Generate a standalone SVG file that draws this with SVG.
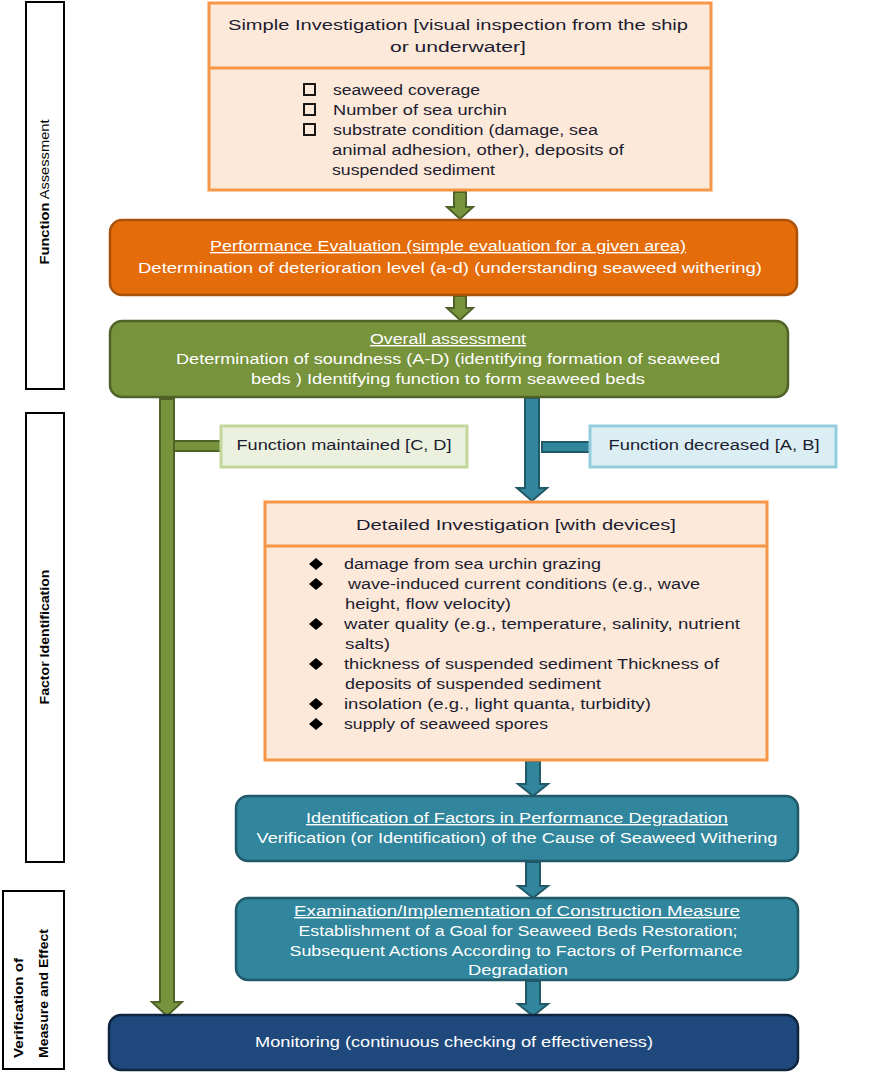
<svg xmlns="http://www.w3.org/2000/svg" width="891" height="1080" viewBox="0 0 891 1080">
<style>
text{font-family:"Liberation Sans",Arial,sans-serif;font-size:14px}
.dk{fill:#1c1c30}
.wt{fill:#ffffff}
.peach{fill:#fde9d9;stroke:#f79646;stroke-width:3}
.side{fill:#ffffff;stroke:#000000;stroke-width:2}
.vt{font-size:13px;fill:#000}
.ga{fill:#77933c;stroke:#4f6228;stroke-width:2}
.ba{fill:#31859c;stroke:#215968;stroke-width:2}
.u{text-decoration:underline}
</style>

<g id="label-function-assessment">
<rect class="side" x="26" y="2" width="38" height="387"/>
<text class="vt" transform="translate(49,192) rotate(-90)" text-anchor="middle" textLength="145" lengthAdjust="spacingAndGlyphs"><tspan font-weight="bold">Function</tspan> Assessment</text>
</g>
<g id="label-factor-identification">
<rect class="side" x="26" y="413" width="38" height="449"/>
<text class="vt" transform="translate(49,637) rotate(-90)" text-anchor="middle" font-weight="bold" textLength="135" lengthAdjust="spacingAndGlyphs">Factor Identification</text>
</g>
<g id="label-verification">
<rect class="side" x="3" y="891" width="61" height="178"/>
<text class="vt" transform="translate(23,1058) rotate(-90)" font-weight="bold" textLength="100" lengthAdjust="spacingAndGlyphs">Verification of</text>
<text class="vt" transform="translate(48,1058) rotate(-90)" font-weight="bold" textLength="129" lengthAdjust="spacingAndGlyphs">Measure and Effect</text>
</g>

<g id="connectors">
<polygon class="ga" points="454,192 466,192 466,207 473,207 460,219 447,207 454,207"/>
<polygon class="ga" points="454,296 466,296 466,308 473,308 460,320 447,308 454,308"/>
<rect class="ga" x="174" y="441" width="48" height="10"/>
<polygon class="ga" points="160,399 174,399 174,1002 182,1002 167,1016 152,1002 160,1002"/>
<rect class="ba" x="542" y="442" width="48" height="10"/>
<polygon class="ba" points="525,398 539,398 539,488 547,488 532,501 517,488 525,488"/>
<polygon class="ba" points="526,761 540,761 540,784 548,784 533,796 518,784 526,784"/>
<polygon class="ba" points="526,862 540,862 540,886 548,886 533,898 518,886 526,886"/>
<polygon class="ba" points="526,981 540,981 540,1004 548,1004 533,1016 518,1004 526,1004"/>
</g>

<g id="simple-investigation">
<rect class="peach" x="209" y="3" width="502" height="187"/>
<line x1="209" y1="68" x2="711" y2="68" stroke="#f79646" stroke-width="3"/>
<text class="dk" x="458" y="30" text-anchor="middle" font-size="15" textLength="460" lengthAdjust="spacingAndGlyphs">Simple Investigation [visual inspection from the ship</text>
<text class="dk" x="458" y="52" text-anchor="middle" font-size="15" textLength="136" lengthAdjust="spacingAndGlyphs">or underwater]</text>
<rect x="304" y="84" width="11" height="11" fill="none" stroke="#000" stroke-width="1.8"/>
<rect x="304" y="104" width="11" height="11" fill="none" stroke="#000" stroke-width="1.8"/>
<rect x="304" y="124" width="11" height="11" fill="none" stroke="#000" stroke-width="1.8"/>
<text class="dk" x="333" y="95" textLength="147" lengthAdjust="spacingAndGlyphs">seaweed  coverage</text>
<text class="dk" x="333" y="115" textLength="174" lengthAdjust="spacingAndGlyphs">Number  of sea urchin</text>
<text class="dk" x="333" y="135" textLength="265" lengthAdjust="spacingAndGlyphs">substrate condition (damage, sea</text>
<text class="dk" x="332" y="155" textLength="292" lengthAdjust="spacingAndGlyphs">animal  adhesion, other), deposits of</text>
<text class="dk" x="332" y="175" textLength="163" lengthAdjust="spacingAndGlyphs">suspended sediment</text>
</g>

<g id="performance-evaluation">
<rect x="110" y="220" width="687" height="75" rx="12" fill="#e46c0a" stroke="#a9520b" stroke-width="2.5"/>
<text class="wt u" x="448" y="251" text-anchor="middle" textLength="476" lengthAdjust="spacingAndGlyphs">Performance Evaluation (simple evaluation for a given area)</text>
<text class="wt" x="450" y="273" text-anchor="middle" textLength="624" lengthAdjust="spacingAndGlyphs">Determination of deterioration level (a-d) (understanding seaweed withering)</text>
</g>

<g id="overall-assessment">
<rect x="110" y="321" width="678" height="76" rx="12" fill="#77933c" stroke="#4f6228" stroke-width="2.5"/>
<text class="wt u" x="448" y="344" text-anchor="middle" textLength="156" lengthAdjust="spacingAndGlyphs">Overall assessment</text>
<text class="wt" x="448" y="364" text-anchor="middle" textLength="544" lengthAdjust="spacingAndGlyphs">Determination of soundness (A-D) (identifying formation of seaweed</text>
<text class="wt" x="448" y="384" text-anchor="middle" textLength="394" lengthAdjust="spacingAndGlyphs">beds )  Identifying function to form seaweed beds</text>
</g>

<g id="function-maintained">
<rect x="221" y="426" width="246" height="41" fill="#ebf1de" stroke="#c3d69b" stroke-width="3"/>
<text class="dk" x="344" y="450" text-anchor="middle" textLength="215" lengthAdjust="spacingAndGlyphs">Function maintained [C, D]</text>
</g>

<g id="function-decreased">
<rect x="590" y="426" width="246" height="41" fill="#dbeef4" stroke="#93cddd" stroke-width="3"/>
<text class="dk" x="714" y="450" text-anchor="middle" textLength="211" lengthAdjust="spacingAndGlyphs">Function decreased [A, B]</text>
</g>

<g id="detailed-investigation">
<rect class="peach" x="265" y="502" width="502" height="258"/>
<line x1="265" y1="546" x2="767" y2="546" stroke="#f79646" stroke-width="3"/>
<text class="dk" x="516" y="530" text-anchor="middle" font-size="15" textLength="320" lengthAdjust="spacingAndGlyphs">Detailed Investigation [with devices]</text>
<g fill="#000">
<polygon points="316,558 323,564 316,570 309,564"/>
<polygon points="316,578 323,584 316,590 309,584"/>
<polygon points="316,618 323,624 316,630 309,624"/>
<polygon points="316,658 323,664 316,670 309,664"/>
<polygon points="316,698 323,704 316,710 309,704"/>
<polygon points="316,718 323,724 316,730 309,724"/>
</g>
<text class="dk" x="344" y="569" textLength="257" lengthAdjust="spacingAndGlyphs">damage from sea urchin grazing</text>
<text class="dk" x="348" y="589" textLength="352" lengthAdjust="spacingAndGlyphs">wave-induced current conditions (e.g., wave</text>
<text class="dk" x="345" y="609" textLength="166" lengthAdjust="spacingAndGlyphs">height, flow velocity)</text>
<text class="dk" x="344" y="629" textLength="396" lengthAdjust="spacingAndGlyphs">water quality (e.g., temperature,  salinity, nutrient</text>
<text class="dk" x="345" y="649" textLength="45" lengthAdjust="spacingAndGlyphs">salts)</text>
<text class="dk" x="344" y="669" textLength="375" lengthAdjust="spacingAndGlyphs">thickness of suspended sediment   Thickness of</text>
<text class="dk" x="345" y="689" textLength="256" lengthAdjust="spacingAndGlyphs">deposits of suspended sediment</text>
<text class="dk" x="344" y="709" textLength="307" lengthAdjust="spacingAndGlyphs">insolation (e.g., light quanta, turbidity)</text>
<text class="dk" x="344" y="729" textLength="204" lengthAdjust="spacingAndGlyphs">supply of seaweed spores</text>
</g>

<g id="identification-of-factors">
<rect x="236" y="796" width="562" height="65" rx="12" fill="#31859c" stroke="#215968" stroke-width="2.5"/>
<text class="wt u" x="517" y="823" text-anchor="middle" textLength="422" lengthAdjust="spacingAndGlyphs">Identification of Factors in Performance Degradation</text>
<text class="wt" x="517" y="843" text-anchor="middle" textLength="521" lengthAdjust="spacingAndGlyphs">Verification (or Identification) of the Cause of Seaweed  Withering</text>
</g>

<g id="examination-implementation">
<rect x="236" y="898" width="562" height="82" rx="12" fill="#31859c" stroke="#215968" stroke-width="2.5"/>
<text class="wt u" x="517" y="916" text-anchor="middle" textLength="446" lengthAdjust="spacingAndGlyphs">Examination/Implementation of Construction  Measure</text>
<text class="wt" x="518" y="936" text-anchor="middle" textLength="439" lengthAdjust="spacingAndGlyphs">Establishment of a Goal for Seaweed  Beds Restoration;</text>
<text class="wt" x="516" y="956" text-anchor="middle" textLength="453" lengthAdjust="spacingAndGlyphs">Subsequent Actions According to Factors of Performance</text>
<text class="wt" x="518" y="975" text-anchor="middle" textLength="100" lengthAdjust="spacingAndGlyphs">Degradation</text>
</g>

<g id="monitoring">
<rect x="109" y="1015" width="689" height="55" rx="12" fill="#1f497d" stroke="#10253f" stroke-width="2.5"/>
<text class="wt" x="454" y="1047" text-anchor="middle" textLength="398" lengthAdjust="spacingAndGlyphs">Monitoring (continuous checking of effectiveness)</text>
</g>
</svg>
